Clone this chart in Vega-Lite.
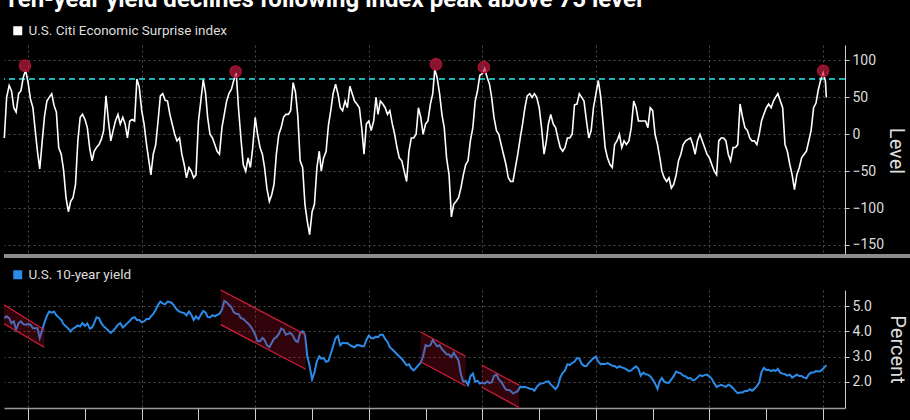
{
  "$schema": "https://vega.github.io/schema/vega-lite/v6.json",
  "background": "#000000",
  "padding": {"left": 0, "top": -12, "right": 0, "bottom": 0},
  "title": {"text": "Ten-year yield declines following index peak above 75 level", "anchor": "start", "frame": "group", "color": "#ffffff", "font": "Roboto", "fontSize": 24, "fontWeight": "bold", "offset": 12},
  "config": {
    "view": {"stroke": null},
    "font": "Roboto",
    "axis": {"labelFont": "Roboto", "titleFont": "Roboto"},
    "legend": {"labelFont": "Roboto"}
  },
  "datasets": {
    "main": [
      {"d":"2003-08-01","c":-5,"y":4.53},{"d":"2003-08-16","c":50,"y":4.60},{"d":"2003-09-01","c":66,"y":4.53},{"d":"2003-09-16","c":59,"y":4.33},
      {"d":"2003-10-01","c":36,"y":4.40},{"d":"2003-10-16","c":30,"y":4.07},{"d":"2003-11-01","c":55,"y":4.33},{"d":"2003-11-16","c":59,"y":4.40},
      {"d":"2003-12-01","c":77,"y":4.29},{"d":"2003-12-16","c":87,"y":4.27},
      {"d":"2004-01-01","c":70,"y":4.29},{"d":"2004-01-16","c":48,"y":4.27},{"d":"2004-02-01","c":36,"y":4.13},{"d":"2004-02-16","c":5,"y":4.13},
      {"d":"2004-03-01","c":-23,"y":4.13},{"d":"2004-03-16","c":-47,"y":3.74},{"d":"2004-04-01","c":-9,"y":4.07},{"d":"2004-04-16","c":25,"y":4.36},
      {"d":"2004-05-01","c":45,"y":4.62},{"d":"2004-05-16","c":50,"y":4.79},{"d":"2004-06-01","c":55,"y":4.75},{"d":"2004-06-16","c":39,"y":4.79},
      {"d":"2004-07-01","c":30,"y":4.64},{"d":"2004-07-16","c":-18,"y":4.56},{"d":"2004-08-01","c":-27,"y":4.46},{"d":"2004-08-16","c":-48,"y":4.29},
      {"d":"2004-09-01","c":-86,"y":4.20},{"d":"2004-09-16","c":-105,"y":4.11},{"d":"2004-10-01","c":-91,"y":4.00},{"d":"2004-10-16","c":-86,"y":4.11},
      {"d":"2004-11-01","c":-68,"y":4.17},{"d":"2004-11-16","c":-9,"y":4.24},{"d":"2004-12-01","c":23,"y":4.20},{"d":"2004-12-16","c":27,"y":4.33},
      {"d":"2005-01-01","c":20,"y":4.22},{"d":"2005-01-16","c":9,"y":4.32},{"d":"2005-02-01","c":-20,"y":4.11},{"d":"2005-02-16","c":-36,"y":4.16},
      {"d":"2005-03-01","c":-23,"y":4.33},{"d":"2005-03-16","c":-18,"y":4.56},{"d":"2005-04-01","c":-14,"y":4.53},{"d":"2005-04-16","c":-7,"y":4.33},
      {"d":"2005-05-01","c":5,"y":4.20},{"d":"2005-05-16","c":52,"y":4.13},{"d":"2005-06-01","c":18,"y":4.03},{"d":"2005-06-16","c":-9,"y":3.94},
      {"d":"2005-07-01","c":5,"y":4.03},{"d":"2005-07-16","c":18,"y":4.13},{"d":"2005-08-01","c":27,"y":4.27},{"d":"2005-08-16","c":14,"y":4.33},
      {"d":"2005-09-01","c":23,"y":4.16},{"d":"2005-09-16","c":14,"y":4.24},{"d":"2005-10-01","c":-5,"y":4.33},{"d":"2005-10-16","c":18,"y":4.42},
      {"d":"2005-11-01","c":20,"y":4.53},{"d":"2005-11-16","c":18,"y":4.57},{"d":"2005-12-01","c":75,"y":4.46},{"d":"2005-12-16","c":64,"y":4.46},
      {"d":"2006-01-01","c":32,"y":4.36},{"d":"2006-01-16","c":14,"y":4.40},{"d":"2006-02-01","c":-14,"y":4.49},{"d":"2006-02-16","c":-36,"y":4.49},
      {"d":"2006-03-01","c":-55,"y":4.60},{"d":"2006-03-16","c":-27,"y":4.70},{"d":"2006-04-01","c":-14,"y":4.86},{"d":"2006-04-16","c":18,"y":5.06},
      {"d":"2006-05-01","c":52,"y":5.19},{"d":"2006-05-16","c":55,"y":5.12},{"d":"2006-06-01","c":46,"y":5.08},{"d":"2006-06-16","c":45,"y":5.19},
      {"d":"2006-07-01","c":27,"y":5.17},{"d":"2006-07-16","c":14,"y":5.12},{"d":"2006-08-01","c":0,"y":4.99},{"d":"2006-08-16","c":-9,"y":4.86},
      {"d":"2006-09-01","c":-5,"y":4.79},{"d":"2006-09-16","c":-27,"y":4.75},{"d":"2006-10-01","c":-41,"y":4.73},{"d":"2006-10-16","c":-59,"y":4.64},
      {"d":"2006-11-01","c":-45,"y":4.79},{"d":"2006-11-16","c":-50,"y":4.66},{"d":"2006-12-01","c":-59,"y":4.46},{"d":"2006-12-16","c":-55,"y":4.60},
      {"d":"2007-01-01","c":18,"y":4.49},{"d":"2007-01-16","c":45,"y":4.66},{"d":"2007-02-01","c":74,"y":4.82},{"d":"2007-02-16","c":55,"y":4.75},
      {"d":"2007-03-01","c":23,"y":4.58},{"d":"2007-03-16","c":0,"y":4.56},{"d":"2007-04-01","c":-5,"y":4.65},{"d":"2007-04-16","c":-14,"y":4.60},
      {"d":"2007-05-01","c":-23,"y":4.66},{"d":"2007-05-16","c":-27,"y":4.70},{"d":"2007-06-01","c":9,"y":4.86},{"d":"2007-06-16","c":27,"y":5.21},
      {"d":"2007-07-01","c":45,"y":5.16},{"d":"2007-07-16","c":55,"y":5.06},{"d":"2007-08-01","c":61,"y":4.96},{"d":"2007-08-16","c":73,"y":4.77},
      {"d":"2007-09-01","c":83,"y":4.70},{"d":"2007-09-16","c":34,"y":4.69},{"d":"2007-10-01","c":-5,"y":4.53},{"d":"2007-10-16","c":-41,"y":4.50},
      {"d":"2007-11-01","c":-50,"y":4.40},{"d":"2007-11-16","c":-32,"y":4.32},{"d":"2007-12-01","c":-45,"y":4.21},{"d":"2007-12-16","c":-18,"y":4.07},
      {"d":"2008-01-01","c":23,"y":3.87},{"d":"2008-01-16","c":0,"y":3.61},{"d":"2008-02-01","c":-18,"y":3.61},{"d":"2008-02-16","c":-27,"y":3.74},
      {"d":"2008-03-01","c":-45,"y":3.66},{"d":"2008-03-16","c":-73,"y":3.45},{"d":"2008-04-01","c":-91,"y":3.37},{"d":"2008-04-16","c":-82,"y":3.54},
      {"d":"2008-05-01","c":-68,"y":3.71},{"d":"2008-05-16","c":-27,"y":3.77},{"d":"2008-06-01","c":0,"y":3.90},{"d":"2008-06-16","c":9,"y":4.11},
      {"d":"2008-07-01","c":23,"y":4.07},{"d":"2008-07-16","c":27,"y":3.87},{"d":"2008-08-01","c":27,"y":3.91},{"d":"2008-08-16","c":32,"y":3.94},
      {"d":"2008-09-01","c":70,"y":3.81},{"d":"2008-09-16","c":57,"y":3.63},{"d":"2008-10-01","c":25,"y":3.58},{"d":"2008-10-16","c":-36,"y":3.94},
      {"d":"2008-11-01","c":-45,"y":4.00},{"d":"2008-11-16","c":-95,"y":3.87},{"d":"2008-12-01","c":-118,"y":3.01},{"d":"2008-12-16","c":-136,"y":2.62},
      {"d":"2009-01-01","c":-105,"y":2.09},{"d":"2009-01-16","c":-95,"y":2.36},{"d":"2009-02-01","c":-45,"y":2.82},{"d":"2009-02-16","c":-23,"y":3.01},
      {"d":"2009-03-01","c":-50,"y":2.92},{"d":"2009-03-16","c":-32,"y":2.94},{"d":"2009-04-01","c":-23,"y":2.79},{"d":"2009-04-16","c":12,"y":2.82},
      {"d":"2009-05-01","c":32,"y":3.11},{"d":"2009-05-16","c":55,"y":3.41},{"d":"2009-06-01","c":68,"y":3.74},{"d":"2009-06-16","c":55,"y":3.82},
      {"d":"2009-07-01","c":36,"y":3.45},{"d":"2009-07-16","c":32,"y":3.55},{"d":"2009-08-01","c":45,"y":3.53},{"d":"2009-08-16","c":36,"y":3.54},
      {"d":"2009-09-01","c":65,"y":3.45},{"d":"2009-09-16","c":55,"y":3.41},{"d":"2009-10-01","c":45,"y":3.37},{"d":"2009-10-16","c":41,"y":3.46},
      {"d":"2009-11-01","c":36,"y":3.45},{"d":"2009-11-16","c":9,"y":3.41},{"d":"2009-12-01","c":-27,"y":3.41},{"d":"2009-12-16","c":14,"y":3.66},
      {"d":"2010-01-01","c":18,"y":3.84},{"d":"2010-01-16","c":5,"y":3.73},{"d":"2010-02-01","c":18,"y":3.73},{"d":"2010-02-16","c":50,"y":3.79},
      {"d":"2010-03-01","c":27,"y":3.77},{"d":"2010-03-16","c":45,"y":3.87},{"d":"2010-04-01","c":41,"y":3.87},{"d":"2010-04-16","c":36,"y":3.70},
      {"d":"2010-05-01","c":27,"y":3.58},{"d":"2010-05-16","c":32,"y":3.37},{"d":"2010-06-01","c":14,"y":3.28},{"d":"2010-06-16","c":0,"y":3.19},
      {"d":"2010-07-01","c":-18,"y":3.09},{"d":"2010-07-16","c":-32,"y":3.00},{"d":"2010-08-01","c":-36,"y":2.91},{"d":"2010-08-16","c":-50,"y":2.79},
      {"d":"2010-09-01","c":-64,"y":2.65},{"d":"2010-09-16","c":-23,"y":2.69},{"d":"2010-10-01","c":-5,"y":2.53},{"d":"2010-10-16","c":-5,"y":2.45},
      {"d":"2010-11-01","c":0,"y":2.55},{"d":"2010-11-16","c":36,"y":2.66},{"d":"2010-12-01","c":23,"y":2.76},{"d":"2010-12-16","c":0,"y":3.01},
      {"d":"2011-01-01","c":14,"y":3.45},{"d":"2011-01-16","c":18,"y":3.41},{"d":"2011-02-01","c":41,"y":3.45},{"d":"2011-02-16","c":55,"y":3.66},
      {"d":"2011-03-01","c":88,"y":3.54},{"d":"2011-03-16","c":77,"y":3.41},{"d":"2011-04-01","c":55,"y":3.45},{"d":"2011-04-16","c":27,"y":3.29},
      {"d":"2011-05-01","c":9,"y":3.20},{"d":"2011-05-16","c":-32,"y":3.09},{"d":"2011-06-01","c":-55,"y":3.08},{"d":"2011-06-16","c":-112,"y":2.97},
      {"d":"2011-07-01","c":-95,"y":3.15},{"d":"2011-07-16","c":-91,"y":3.00},{"d":"2011-08-01","c":-86,"y":2.84},{"d":"2011-08-16","c":-73,"y":2.29},
      {"d":"2011-09-01","c":-55,"y":1.99},{"d":"2011-09-16","c":-41,"y":2.03},{"d":"2011-10-01","c":-36,"y":1.87},{"d":"2011-10-16","c":-9,"y":2.21},
      {"d":"2011-11-01","c":9,"y":2.32},{"d":"2011-11-16","c":45,"y":2.00},{"d":"2011-12-01","c":59,"y":2.03},{"d":"2011-12-16","c":80,"y":1.92},
      {"d":"2012-01-01","c":82,"y":1.96},{"d":"2012-01-16","c":89,"y":1.92},{"d":"2012-02-01","c":77,"y":2.01},{"d":"2012-02-16","c":68,"y":1.95},
      {"d":"2012-03-01","c":50,"y":1.97},{"d":"2012-03-16","c":23,"y":2.22},{"d":"2012-04-01","c":5,"y":2.29},{"d":"2012-04-16","c":0,"y":2.09},
      {"d":"2012-05-01","c":-14,"y":2.00},{"d":"2012-05-16","c":-27,"y":1.84},{"d":"2012-06-01","c":-41,"y":1.68},{"d":"2012-06-16","c":-59,"y":1.67},
      {"d":"2012-07-01","c":-64,"y":1.63},{"d":"2012-07-16","c":-64,"y":1.53},{"d":"2012-08-01","c":-45,"y":1.57},{"d":"2012-08-16","c":-27,"y":1.63},
      {"d":"2012-09-01","c":-5,"y":1.80},{"d":"2012-09-16","c":14,"y":1.78},{"d":"2012-10-01","c":36,"y":1.79},{"d":"2012-10-16","c":52,"y":1.76},
      {"d":"2012-11-01","c":55,"y":1.72},{"d":"2012-11-16","c":50,"y":1.71},{"d":"2012-12-01","c":55,"y":1.64},{"d":"2012-12-16","c":50,"y":1.79},
      {"d":"2013-01-01","c":36,"y":1.89},{"d":"2013-01-16","c":9,"y":1.93},{"d":"2013-02-01","c":-27,"y":1.95},{"d":"2013-02-16","c":-9,"y":2.00},
      {"d":"2013-03-01","c":14,"y":2.01},{"d":"2013-03-16","c":27,"y":1.89},{"d":"2013-04-01","c":14,"y":1.79},{"d":"2013-04-16","c":9,"y":1.70},
      {"d":"2013-05-01","c":-5,"y":1.82},{"d":"2013-05-16","c":-18,"y":2.16},{"d":"2013-06-01","c":-23,"y":2.35},{"d":"2013-06-16","c":-18,"y":2.45},
      {"d":"2013-07-01","c":-5,"y":2.69},{"d":"2013-07-16","c":-5,"y":2.66},{"d":"2013-08-01","c":0,"y":2.75},{"d":"2013-08-16","c":40,"y":2.79},
      {"d":"2013-09-01","c":41,"y":2.94},{"d":"2013-09-16","c":55,"y":2.92},{"d":"2013-10-01","c":50,"y":2.71},{"d":"2013-10-16","c":45,"y":2.62},
      {"d":"2013-11-01","c":18,"y":2.62},{"d":"2013-11-16","c":-5,"y":2.75},{"d":"2013-12-01","c":5,"y":2.84},{"d":"2013-12-16","c":36,"y":2.94},
      {"d":"2014-01-01","c":55,"y":3.00},{"d":"2014-01-16","c":73,"y":2.80},{"d":"2014-02-01","c":50,"y":2.69},{"d":"2014-02-16","c":14,"y":2.71},
      {"d":"2014-03-01","c":-18,"y":2.70},{"d":"2014-03-16","c":-32,"y":2.74},{"d":"2014-04-01","c":-41,"y":2.69},{"d":"2014-04-16","c":-45,"y":2.63},
      {"d":"2014-05-01","c":-14,"y":2.62},{"d":"2014-05-16","c":-9,"y":2.55},{"d":"2014-06-01","c":0,"y":2.62},{"d":"2014-06-16","c":-18,"y":2.57},
      {"d":"2014-07-01","c":-9,"y":2.54},{"d":"2014-07-16","c":-14,"y":2.49},{"d":"2014-08-01","c":-9,"y":2.42},{"d":"2014-08-16","c":9,"y":2.45},
      {"d":"2014-09-01","c":45,"y":2.54},{"d":"2014-09-16","c":36,"y":2.61},{"d":"2014-10-01","c":18,"y":2.51},{"d":"2014-10-16","c":18,"y":2.24},
      {"d":"2014-11-01","c":18,"y":2.36},{"d":"2014-11-16","c":18,"y":2.29},{"d":"2014-12-01","c":9,"y":2.28},{"d":"2014-12-16","c":36,"y":2.22},
      {"d":"2015-01-01","c":32,"y":2.08},{"d":"2015-01-16","c":0,"y":1.93},{"d":"2015-02-01","c":-14,"y":1.71},{"d":"2015-02-16","c":-32,"y":2.03},
      {"d":"2015-03-01","c":-50,"y":2.14},{"d":"2015-03-16","c":-59,"y":2.00},{"d":"2015-04-01","c":-64,"y":1.96},{"d":"2015-04-16","c":-59,"y":1.96},
      {"d":"2015-05-01","c":-73,"y":2.09},{"d":"2015-05-16","c":-68,"y":2.22},{"d":"2015-06-01","c":-55,"y":2.40},{"d":"2015-06-16","c":-36,"y":2.36},
      {"d":"2015-07-01","c":-27,"y":2.33},{"d":"2015-07-16","c":-14,"y":2.24},{"d":"2015-08-01","c":-9,"y":2.21},{"d":"2015-08-16","c":-7,"y":2.13},
      {"d":"2015-09-01","c":-5,"y":2.14},{"d":"2015-09-16","c":-14,"y":2.05},{"d":"2015-10-01","c":-27,"y":2.08},{"d":"2015-10-16","c":-9,"y":2.17},
      {"d":"2015-11-01","c":0,"y":2.26},{"d":"2015-11-16","c":-9,"y":2.22},{"d":"2015-12-01","c":-18,"y":2.26},{"d":"2015-12-16","c":-27,"y":2.28},
      {"d":"2016-01-01","c":-32,"y":2.20},{"d":"2016-01-16","c":-41,"y":2.11},{"d":"2016-02-01","c":-50,"y":1.93},{"d":"2016-02-16","c":-55,"y":1.79},
      {"d":"2016-03-01","c":-9,"y":1.83},{"d":"2016-03-16","c":-5,"y":1.87},{"d":"2016-04-01","c":-5,"y":1.83},{"d":"2016-04-16","c":-9,"y":1.79},
      {"d":"2016-05-01","c":-27,"y":1.88},{"d":"2016-05-16","c":-36,"y":1.83},{"d":"2016-06-01","c":-18,"y":1.74},{"d":"2016-06-16","c":-18,"y":1.63},
      {"d":"2016-07-01","c":-14,"y":1.54},{"d":"2016-07-16","c":41,"y":1.57},{"d":"2016-08-01","c":23,"y":1.57},{"d":"2016-08-16","c":9,"y":1.63},
      {"d":"2016-09-01","c":5,"y":1.63},{"d":"2016-09-16","c":-5,"y":1.70},{"d":"2016-10-01","c":-9,"y":1.64},{"d":"2016-10-16","c":-9,"y":1.71},
      {"d":"2016-11-01","c":-14,"y":1.82},{"d":"2016-11-16","c":0,"y":1.96},{"d":"2016-12-01","c":18,"y":2.38},{"d":"2016-12-16","c":27,"y":2.55},
      {"d":"2017-01-01","c":36,"y":2.46},{"d":"2017-01-16","c":41,"y":2.47},{"d":"2017-02-01","c":36,"y":2.42},{"d":"2017-02-16","c":45,"y":2.47},
      {"d":"2017-03-01","c":50,"y":2.42},{"d":"2017-03-16","c":55,"y":2.51},{"d":"2017-04-01","c":45,"y":2.36},{"d":"2017-04-16","c":36,"y":2.32},
      {"d":"2017-05-01","c":-14,"y":2.30},{"d":"2017-05-16","c":-23,"y":2.24},{"d":"2017-06-01","c":-41,"y":2.28},{"d":"2017-06-16","c":-55,"y":2.16},
      {"d":"2017-07-01","c":-75,"y":2.22},{"d":"2017-07-16","c":-55,"y":2.28},{"d":"2017-08-01","c":-45,"y":2.22},{"d":"2017-08-16","c":-32,"y":2.22},
      {"d":"2017-09-01","c":-27,"y":2.16},{"d":"2017-09-16","c":-23,"y":2.13},{"d":"2017-10-01","c":-9,"y":2.29},{"d":"2017-10-16","c":5,"y":2.36},
      {"d":"2017-11-01","c":36,"y":2.36},{"d":"2017-11-16","c":42,"y":2.42},{"d":"2017-12-01","c":60,"y":2.40},{"d":"2017-12-16","c":73,"y":2.42},
      {"d":"2018-01-01","c":83,"y":2.51},{"d":"2018-01-16","c":72,"y":2.62},{"d":"2018-01-22","c":50,"y":2.66}
    ],
    "peaks": [
      {"d":"2003-12-12","c":93},{"d":"2007-08-28","c":85},{"d":"2011-03-09","c":95},{"d":"2012-01-11","c":91},{"d":"2018-01-02","c":86}
    ],
    "chband": [
      {"ch":1,"d":"2003-07-30","y":4.31,"y2":5.06},{"ch":1,"d":"2004-04-14","y":3.37,"y2":4.07},
      {"ch":2,"d":"2007-05-24","y":4.27,"y2":5.65},{"ch":2,"d":"2008-11-21","y":2.49,"y2":3.87},
      {"ch":3,"d":"2010-11-30","y":2.79,"y2":3.98},{"ch":3,"d":"2011-09-16","y":1.83,"y2":3.01},
      {"ch":4,"d":"2011-12-27","y":1.79,"y2":2.66},{"ch":4,"d":"2012-08-24","y":0.97,"y2":1.86}
    ],
    "chedge": [
      {"ch":1,"edge":"lo","d":"2003-07-30","y":4.31},{"ch":1,"edge":"lo","d":"2004-04-14","y":3.37},
      {"ch":1,"edge":"hi","d":"2003-07-30","y":5.06},{"ch":1,"edge":"hi","d":"2004-04-14","y":4.07},
      {"ch":2,"edge":"lo","d":"2007-05-24","y":4.27},{"ch":2,"edge":"lo","d":"2008-11-21","y":2.49},
      {"ch":2,"edge":"hi","d":"2007-05-24","y":5.65},{"ch":2,"edge":"hi","d":"2008-11-21","y":3.87},
      {"ch":3,"edge":"lo","d":"2010-11-30","y":2.79},{"ch":3,"edge":"lo","d":"2011-09-16","y":1.83},
      {"ch":3,"edge":"hi","d":"2010-11-30","y":3.98},{"ch":3,"edge":"hi","d":"2011-09-16","y":3.01},
      {"ch":4,"edge":"lo","d":"2011-12-27","y":1.79},{"ch":4,"edge":"lo","d":"2012-08-24","y":0.97},
      {"ch":4,"edge":"hi","d":"2011-12-27","y":2.66},{"ch":4,"edge":"hi","d":"2012-08-24","y":1.86}
    ]
  },
  "spacing": 10,
  "vconcat": [
    {
      "width": 841,
      "height": 211,
      "layer": [
        {
          "data": {"name": "main"},
          "mark": {"type": "rule", "color": "#1fb3b5", "strokeWidth": 1.5, "strokeDash": [6, 4]},
          "encoding": {"y": {"datum": 75, "type": "quantitative", "scale": {"domain": [-165, 121]}}}
        },
        {
          "data": {"name": "main"},
          "mark": {"type": "rule", "color": "#8c8c8c", "strokeWidth": 3},
          "encoding": {
            "x": {"datum": {"year": 2003, "month": 7, "date": 30}, "type": "temporal"},
            "x2": {"datum": {"year": 2019, "month": 8, "date": 10}},
            "y": {"datum": -165, "type": "quantitative"}
          }
        },
        {
          "data": {"name": "main"},
          "mark": {"type": "line", "strokeWidth": 1.6, "interpolate": "linear"},
          "encoding": {
            "x": {"field": "d", "type": "temporal", "scale": {"domain": ["2003-07-30", "2018-05-22"]},
              "axis": {"title": null, "labels": false, "ticks": false, "domain": true, "domainColor": "#8c8c8c", "domainWidth": 3,
                "grid": true, "gridColor": "#4d4d4d", "gridDash": [2, 3], "gridWidth": 1, "tickCount": {"interval": "year", "step": 2}}},
            "y": {"field": "c", "type": "quantitative", "scale": {"domain": [-165, 121], "nice": false},
              "axis": {"orient": "right", "title": "Level", "values": [-150, -100, -50, 0, 50, 100], "tickCount": 20, "labelOverlap": false,
                "domain": true, "domainColor": "#cfcfcf", "domainWidth": 1, "ticks": true, "tickSize": 4, "tickColor": "#cfcfcf",
                "labelColor": "#dddddd", "labelFontSize": 14, "labelPadding": 3,
                "grid": true, "gridColor": "#4d4d4d", "gridDash": [2, 3],
                "titleColor": "#dddddd", "titleFontSize": 20, "titleFontWeight": "normal", "titlePadding": 2}},
            "color": {"datum": "U.S. Citi Economic Surprise index", "type": "nominal", "scale": {"range": ["#ffffff"]},
              "legend": {"orient": "top", "title": null, "symbolType": "square", "symbolSize": 81, "symbolOffset": 7,
                "symbolFillColor": "#ffffff", "symbolStrokeWidth": 0, "labelColor": "#dddddd", "labelFontSize": 13.5, "labelOffset": 4,
                "labelLimit": 500, "offset": 7, "padding": 0,
                "encode": {"symbols": {"update": {"fill": {"value": "#ffffff"}, "strokeWidth": {"value": 0}}}}}}
          }
        },
        {
          "data": {"name": "peaks"},
          "mark": {"type": "circle", "size": 125, "fill": "#cc1f48", "fillOpacity": 0.65, "stroke": "#a8122f", "strokeWidth": 1.5, "opacity": 1},
          "encoding": {
            "x": {"field": "d", "type": "temporal"},
            "y": {"field": "c", "type": "quantitative"}
          }
        }
      ]
    },
    {
      "width": 841,
      "height": 118,
      "layer": [
        {
          "data": {"name": "main"},
          "mark": {"type": "line", "strokeWidth": 2},
          "encoding": {
            "x": {"field": "d", "type": "temporal", "scale": {"domain": ["2003-07-30", "2018-05-22"]},
              "axis": {"title": null, "labels": false, "ticks": true, "tickSize": 16, "tickColor": "#cfcfcf", "tickWidth": 1,
                "domain": true, "domainColor": "#9a9a9a", "domainWidth": 1.5,
                "grid": true, "gridColor": "#4d4d4d", "gridDash": [2, 3],
                "gridOpacity": {"condition": {"test": "year(datum.value) % 2 == 0", "value": 1}, "value": 0},
                "tickCount": {"interval": "year", "step": 1}}},
            "y": {"field": "y", "type": "quantitative", "scale": {"domain": [0.95, 5.65], "nice": false, "zero": false},
              "axis": {"orient": "right", "title": "Percent", "values": [2, 3, 4, 5], "tickCount": 20, "format": ".1f",
                "labelOverlap": false,
                "domain": true, "domainColor": "#cfcfcf", "domainWidth": 1, "ticks": true, "tickSize": 4, "tickColor": "#cfcfcf",
                "labelColor": "#dddddd", "labelFontSize": 14, "labelPadding": 3,
                "grid": true, "gridColor": "#4d4d4d", "gridDash": [2, 3],
                "titleColor": "#dddddd", "titleFontSize": 20, "titleFontWeight": "normal", "titlePadding": 15}},
            "color": {"datum": "U.S. 10-year yield", "type": "nominal", "scale": {"range": ["#2a8ce8"]},
              "legend": {"orient": "top", "title": null, "symbolType": "square", "symbolSize": 81, "symbolOffset": 7,
                "symbolFillColor": "#2a8ce8", "symbolStrokeWidth": 0, "labelColor": "#dddddd", "labelFontSize": 13.5, "labelOffset": 4,
                "labelLimit": 500, "offset": 5, "padding": 0,
                "encode": {"symbols": {"update": {"fill": {"value": "#2a8ce8"}, "strokeWidth": {"value": 0}}}}}}
          }
        },
        {
          "data": {"name": "chband"},
          "mark": {"type": "area", "color": "#b0102c", "opacity": 0.28},
          "encoding": {
            "x": {"field": "d", "type": "temporal"},
            "y": {"field": "y", "type": "quantitative"},
            "y2": {"field": "y2"},
            "detail": {"field": "ch", "type": "nominal"}
          }
        },
        {
          "data": {"name": "chedge"},
          "mark": {"type": "line", "color": "#d21f3c", "strokeWidth": 1.2},
          "encoding": {
            "x": {"field": "d", "type": "temporal"},
            "y": {"field": "y", "type": "quantitative"},
            "detail": [{"field": "ch", "type": "nominal"}, {"field": "edge", "type": "nominal"}]
          }
        }
      ],
      "resolve": {"scale": {"color": "independent"}}
    }
  ],
  "resolve": {"scale": {"color": "independent", "x": "independent", "y": "independent"}, "legend": {"color": "independent"}}
}
